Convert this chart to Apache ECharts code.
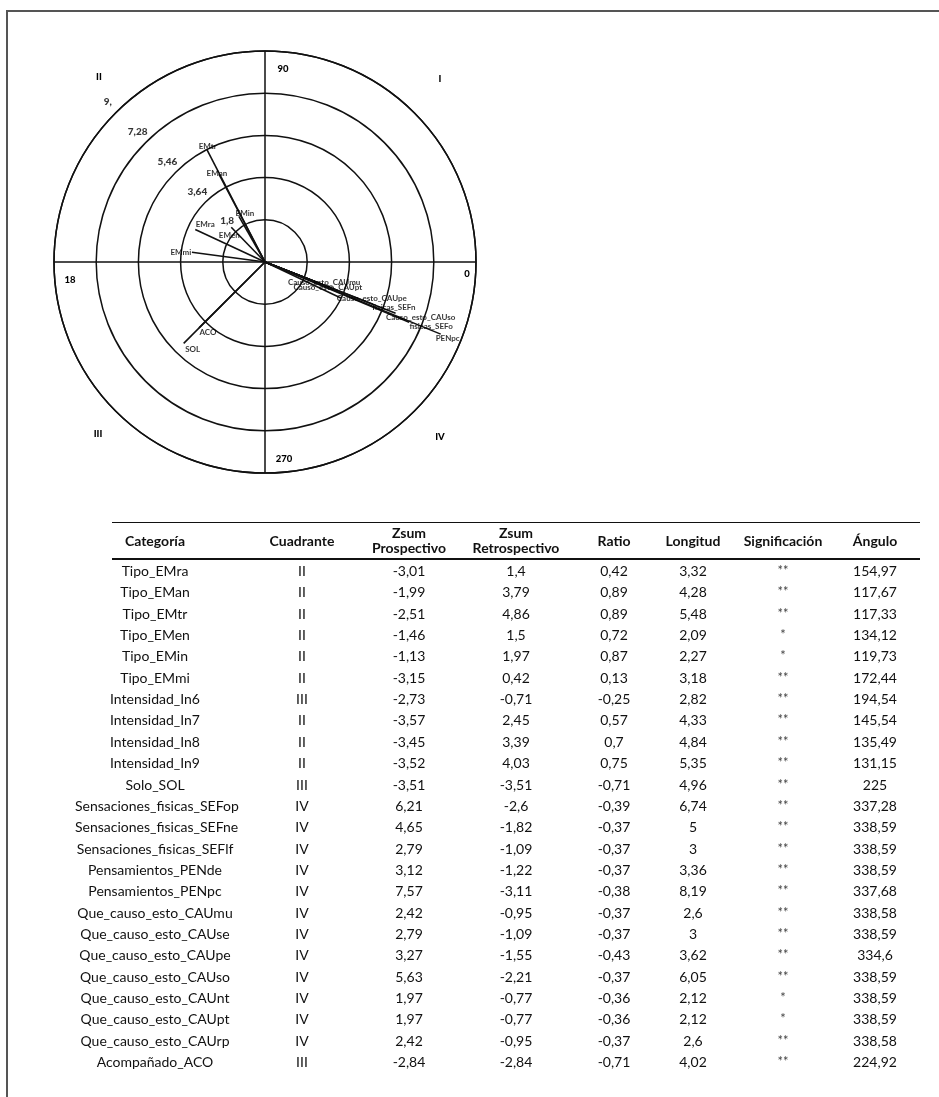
<!DOCTYPE html>
<html>
<head>
<meta charset="utf-8">
<script src="https://cdn.jsdelivr.net/npm/echarts@6/dist/echarts.min.js"></script>
<style>
  body { margin: 0; background: #fff; width: 939px; height: 1097px; overflow: hidden; position: relative; font-family: Lato, 'Open Sans', sans-serif; }
  #frame { position: absolute; left: 6px; top: 10px; right: -4px; bottom: -4px; border-top: 2px solid #555; border-left: 2px solid #555; }
  #chart { position: absolute; left: 0; top: 0; width: 939px; height: 500px; }
  #tabla { position: absolute; left: 0; top: 0; width: 939px; height: 1097px; }
  .cell { position: absolute; width: 160px; text-align: center; font-size: 14px; line-height: 21px; color: #111; white-space: nowrap; }
  .head { font-weight: bold; line-height: 15px; }
  .rule { position: absolute; left: 112px; width: 808px; background: #111; }
</style>
</head>
<body>
<div id="frame"></div>
<div id="chart"></div>
<div id="tabla"></div>
<script>
// tabla de datos
const categorias = ['Tipo_EMra','Tipo_EMan','Tipo_EMtr','Tipo_EMen','Tipo_EMin','Tipo_EMmi',
  'Intensidad_In6','Intensidad_In7','Intensidad_In8','Intensidad_In9','Solo_SOL',
  'Sensaciones_fisicas_SEFop','Sensaciones_fisicas_SEFne','Sensaciones_fisicas_SEFlf',
  'Pensamientos_PENde','Pensamientos_PENpc','Que_causo_esto_CAUmu','Que_causo_esto_CAUse',
  'Que_causo_esto_CAUpe','Que_causo_esto_CAUso','Que_causo_esto_CAUnt','Que_causo_esto_CAUpt',
  'Que_causo_esto_CAUrp','Acompañado_ACO'];
const cuadrante = ['II','II','II','II','II','II','III','II','II','II','III',
  'IV','IV','IV','IV','IV','IV','IV','IV','IV','IV','IV','IV','III'];
const zsumProspectivo = [-3.01,-1.99,-2.51,-1.46,-1.13,-3.15,-2.73,-3.57,-3.45,-3.52,-3.51,
  6.21,4.65,2.79,3.12,7.57,2.42,2.79,3.27,5.63,1.97,1.97,2.42,-2.84];
const zsumRetrospectivo = [1.4,3.79,4.86,1.5,1.97,0.42,-0.71,2.45,3.39,4.03,-3.51,
  -2.6,-1.82,-1.09,-1.22,-3.11,-0.95,-1.09,-1.55,-2.21,-0.77,-0.77,-0.95,-2.84];
const ratio = [0.42,0.89,0.89,0.72,0.87,0.13,-0.25,0.57,0.7,0.75,-0.71,
  -0.39,-0.37,-0.37,-0.37,-0.38,-0.37,-0.37,-0.43,-0.37,-0.36,-0.36,-0.37,-0.71];
const longitud = [3.32,4.28,5.48,2.09,2.27,3.18,2.82,4.33,4.84,5.35,4.96,
  6.74,5,3,3.36,8.19,2.6,3,3.62,6.05,2.12,2.12,2.6,4.02];
const significacion = ['**','**','**','*','*','**','**','**','**','**','**',
  '**','**','**','**','**','**','**','**','**','*','*','**','**'];
const angulo = [154.97,117.67,117.33,134.12,119.73,172.44,194.54,145.54,135.49,131.15,225,
  337.28,338.59,338.59,338.59,337.68,338.58,338.59,334.6,338.59,338.59,338.59,338.58,224.92];

// etiquetas del grafico polar (las de Intensidad no se dibujan)
const etiquetas = ['EMra','EMan','EMtr','EMen','EMin','EMmi','','','','','SOL',
  'fisicas_SEFo','fisicas_SEFn','','','PENpc','Causo_esto_CAUmu','',
  'Causo_esto_CAUpe','Causo_esto_CAUso','','Causo_esto_CAUpt','','ACO'];
const anillos = [1.82, 3.64, 5.46, 7.28, 9.1];
const anillosTexto = ['1,8', '3,64', '5,46', '7,28', '9,'];
const encabezados = ['Categoría','Cuadrante','Zsum\nProspectivo','Zsum\nRetrospectivo','Ratio','Longitud','Significación','Ángulo'];

// desplazamiento de cada etiqueta respecto al extremo de su linea (px)
const offsets = {
  EMra:[10,-5], EMan:[-2,-1], EMtr:[1,-3], EMen:[-2,8], EMin:[6,-3], EMmi:[-11,0],
  SOL:[9,6], ACO:[9,5], PENpc:[7,4], fisicas_SEFo:[22,4], fisicas_SEFn:[21,3],
  Causo_esto_CAUso:[25,4], Causo_esto_CAUpe:[31,0], Causo_esto_CAUmu:[3,-2], Causo_esto_CAUpt:[17,7]
};

const cx = 265, cy = 262, R = 211;
const fmt = v => String(v).replace('.', ',');

// ---------- tabla ----------
const colX = [155, 302, 409, 516, 614, 693, 783, 875];
const tabla = document.getElementById('tabla');
const headTop = 522, firstRow = 560, rowH = 21.35;
let html = '';
html += '<div class="rule" style="top:' + headTop + 'px;height:1px"></div>';
html += '<div class="rule" style="top:' + (firstRow - 2) + 'px;height:2px"></div>';
encabezados.forEach((h, j) => {
  const lines = h.split('\n');
  const top = lines.length > 1 ? headTop + 3 : headTop + 11;
  html += '<div class="cell head" style="left:' + (colX[j] - 80) + 'px;top:' + top + 'px">' + lines.join('<br>') + '</div>';
});
categorias.forEach((c, i) => {
  const vals = [c, cuadrante[i], fmt(zsumProspectivo[i]), fmt(zsumRetrospectivo[i]), fmt(ratio[i]),
    fmt(longitud[i]), significacion[i], fmt(angulo[i])];
  const top = firstRow + i * rowH;
  vals.forEach((v, j) => {
    const extra = j === 6 ? 'font-size:13px;color:#444;' : '';
    html += '<div class="cell" style="left:' + (colX[j] - 80) + 'px;top:' + top + 'px;' + extra + '">' + v + '</div>';
  });
});
tabla.innerHTML = html;

// ---------- grafico polar ----------
const chart = echarts.init(document.getElementById('chart'), null, { renderer: 'canvas' });
const txt = { fontFamily: 'Lato', fontWeight: 'bold', fontSize: 8, color: '#000' };

const series = [];
categorias.forEach((c, i) => {
  if (c.indexOf('Intensidad') === 0) return;
  series.push({
    type: 'line', coordinateSystem: 'polar', silent: true, symbol: 'none',
    lineStyle: { color: '#111', width: 1.6 },
    data: [[0, angulo[i]], [longitud[i], angulo[i]]]
  });
});

const puntosEtiqueta = [];
categorias.forEach((c, i) => {
  if (c.indexOf('Intensidad') === 0 || !etiquetas[i]) return;
  puntosEtiqueta.push({
    value: [longitud[i], angulo[i]], name: etiquetas[i],
    label: { offset: offsets[etiquetas[i]] || [0, 0] }
  });
});
series.push({
  type: 'scatter', coordinateSystem: 'polar', silent: true, symbolSize: 1,
  itemStyle: { color: 'rgba(0,0,0,0)' }, z: 5,
  label: Object.assign({ show: true, position: 'inside', formatter: p => p.name }, txt),
  data: puntosEtiqueta
});
series.push({
  type: 'scatter', coordinateSystem: 'polar', silent: true, symbolSize: 1,
  itemStyle: { color: 'rgba(0,0,0,0)' }, z: 5,
  label: Object.assign({ show: true, position: 'inside', offset: [-8, -11],
    formatter: p => anillosTexto[p.dataIndex] }, txt, { fontSize: 10, fontWeight: 900 }),
  data: anillos.map(v => [v, 135])
});

const marca = (t, dx, dy) => ({
  type: 'text', x: cx + dx, y: cy + dy, silent: true,
  style: { text: t, font: '900 9.5px Lato', fill: '#000', align: 'center', verticalAlign: 'middle' }
});

const option = {
  animation: false,
  backgroundColor: 'transparent',
  polar: { center: [cx, cy], radius: R },
  angleAxis: {
    type: 'value', min: 0, max: 360, interval: 90, startAngle: 0, clockwise: false,
    axisLine: { lineStyle: { color: '#111', width: 1.5 } },
    axisTick: { show: false }, axisLabel: { show: false },
    splitLine: { show: true, lineStyle: { color: '#111', width: 1.5 } }
  },
  radiusAxis: {
    type: 'value', min: 0, max: 9.1, interval: 1.82,
    axisLine: { show: false }, axisTick: { show: false }, axisLabel: { show: false },
    splitLine: { show: true, lineStyle: { color: '#111', width: 1.5 } }
  },
  graphic: [
    marca('II', -166, -185), marca('I', 175, -183), marca('III', -167, 172), marca('IV', 175, 175),
    marca('90', 18, -193), marca('0', 202, 12), marca('18', -195, 18), marca('270', 19, 197)
  ],
  series: series
};
chart.setOption(option);
window.addEventListener('resize', function () { chart.resize(); });
</script>
</body>
</html>
